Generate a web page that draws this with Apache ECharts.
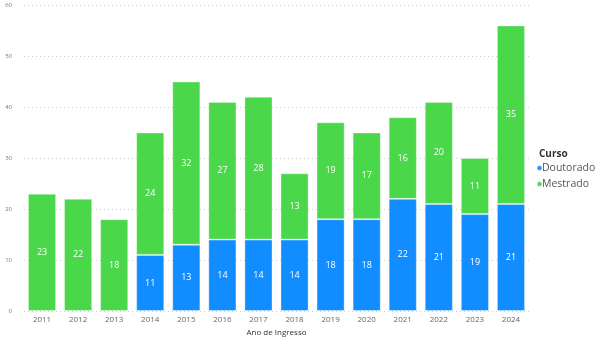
<!DOCTYPE html>
<html><head><meta charset="utf-8">
<script src="https://cdn.jsdelivr.net/npm/echarts@6/dist/echarts.min.js"></script>
<style>html,body{margin:0;padding:0;background:#fff}#c{width:600px;height:338px}</style>
</head><body><div id="c"></div>
<script>
const years = ['2011','2012','2013','2014','2015','2016','2017','2018','2019','2020','2021','2022','2023','2024'];
const doutorado = [null,null,null,11,13,14,14,14,18,18,22,21,19,21];
const mestrado = [23,22,18,24,32,27,28,13,19,17,16,20,11,35];
const yTicks = [0,10,20,30,40,50,60];

const chart = echarts.init(document.getElementById('c'));
const lbl = {show:true, position:'inside', color:'#fff', fontSize:9, fontFamily:'Open Sans'};
chart.setOption({
  animation:false,
  title:{text:'Curso', left:534, top:144, textStyle:{fontSize:10, fontWeight:'bold', color:'#333', fontFamily:'Open Sans'}},
  legend:{orient:'vertical', left:531, top:157, itemWidth:5, itemHeight:5, itemGap:4, icon:'circle',
    textStyle:{fontSize:10.5, color:'#555', fontFamily:'Open Sans', padding:[0,0,0,-5], lineHeight:12},
    data:['Doutorado','Mestrado']},
  grid:{left:24, right:71, top:5, bottom:27, outerBoundsMode:'none'},
  xAxis:{type:'category', data:years, name:'Ano de Ingresso', nameLocation:'middle', nameGap:16,
    nameTextStyle:{fontSize:8, color:'#333', fontFamily:'Open Sans'},
    axisLine:{show:false}, axisTick:{show:false},
    axisLabel:{fontSize:8, color:'#666', margin:5, fontFamily:'Open Sans'}},
  yAxis:{type:'value', min:yTicks[0], max:yTicks[yTicks.length-1], interval:10,
    axisLabel:{fontSize:6, color:'#777', margin:12, fontFamily:'Open Sans'},
    splitLine:{lineStyle:{type:[1,3], color:'#ccc'}}},
  series:[
    {name:'Doutorado', type:'bar', stack:'a', data:doutorado, color:'#118DFF', barCategoryGap:'22%', label:lbl,
      itemStyle:{borderColor:'rgba(255,255,255,0.35)', borderWidth:1}},
    {name:'Mestrado', type:'bar', stack:'a', data:mestrado, color:'#4AD74A', barCategoryGap:'22%', label:lbl,
      itemStyle:{borderColor:'rgba(255,255,255,0.35)', borderWidth:1}}
  ]
});
</script></body></html>
